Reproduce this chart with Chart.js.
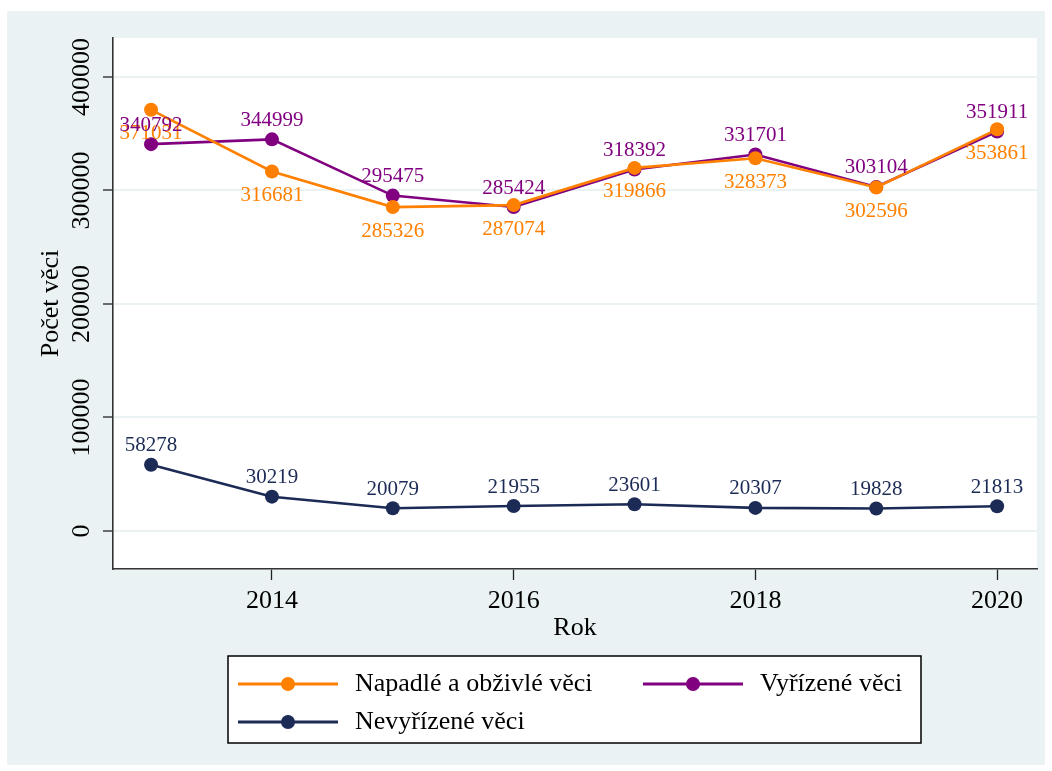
<!DOCTYPE html>
<html>
<head>
<meta charset="utf-8">
<script src="https://cdn.jsdelivr.net/npm/chart.js@4/dist/chart.umd.min.js"></script>
<style>
  html, body { margin: 0; padding: 0; background: #fff; }
</style>
</head>
<body>
<canvas id="chart-canvas" width="1052" height="771"></canvas>
<script>
// data
const years = [2013, 2014, 2015, 2016, 2017, 2018, 2019, 2020];
const napadle = [371031, 316681, 285326, 287074, 319866, 328373, 302596, 353861];
const vyrizene = [340792, 344999, 295475, 285424, 318392, 331701, 303104, 351911];
const nevyrizene = [58278, 30219, 20079, 21955, 23601, 20307, 19828, 21813];
const seriesNames = ['Napadlé a obživlé věci', 'Vyřízené věci', 'Nevyřízené věci'];
const yTicks = [0, 100000, 200000, 300000, 400000];
const xTicks = [2014, 2016, 2018, 2020];

const SERIF = '"Liberation Serif", "Times New Roman", serif';
Chart.defaults.font.family = SERIF;
Chart.defaults.color = '#000';

const toPoints = vals => vals.map((v, i) => ({ x: years[i], y: v }));

// stata-like background: light frame, white plot region
const bgPlugin = {
  id: 'bg',
  beforeDraw(chart) {
    const { ctx, chartArea: a } = chart;
    ctx.save();
    ctx.fillStyle = '#fff';
    ctx.fillRect(0, 0, chart.width, chart.height);
    ctx.fillStyle = '#EAF2F3';
    ctx.fillRect(7, 11, 1038, 754);
    ctx.fillStyle = '#fff';
    ctx.fillRect(a.left, a.top, a.right - a.left, a.bottom - a.top);
    ctx.restore();
  }
};

// value labels next to markers
const labelPlugin = {
  id: 'pointLabels',
  afterDatasetsDraw(chart) {
    const ctx = chart.ctx;
    ctx.save();
    ctx.font = '21px ' + SERIF;
    ctx.textAlign = 'center';
    ctx.textBaseline = 'middle';
    chart.data.datasets.forEach((ds, i) => {
      const dy = ds.labelPos === 'below' ? 24 : -19;
      ctx.fillStyle = ds.borderColor;
      chart.getDatasetMeta(i).data.forEach((pt, j) => {
        ctx.fillText(String(ds.data[j].y), pt.x, pt.y + dy);
      });
    });
    ctx.restore();
  }
};

// boxed legend, two columns
const legendPlugin = {
  id: 'boxLegend',
  afterDraw(chart) {
    const ctx = chart.ctx;
    const slots = [{ x: 238, y: 684 }, { x: 643, y: 684 }, { x: 238, y: 722 }];
    ctx.save();
    ctx.fillStyle = '#fff';
    ctx.fillRect(228, 656, 693, 87);
    ctx.strokeStyle = '#000';
    ctx.lineWidth = 1.5;
    ctx.strokeRect(228, 656, 693, 87);
    ctx.font = '26px ' + SERIF;
    ctx.textBaseline = 'middle';
    ctx.textAlign = 'left';
    chart.data.datasets.forEach((ds, i) => {
      const s = slots[i];
      ctx.strokeStyle = ds.borderColor;
      ctx.lineWidth = 3;
      ctx.beginPath();
      ctx.moveTo(s.x, s.y);
      ctx.lineTo(s.x + 100, s.y);
      ctx.stroke();
      ctx.fillStyle = ds.borderColor;
      ctx.beginPath();
      ctx.arc(s.x + 50, s.y, 7, 0, Math.PI * 2);
      ctx.fill();
      ctx.fillStyle = '#000';
      ctx.fillText(ds.label, s.x + 117, s.y);
    });
    ctx.restore();
  }
};

function lineSet(label, vals, color, labelPos) {
  return {
    label: label,
    data: toPoints(vals),
    borderColor: color,
    backgroundColor: color,
    pointBackgroundColor: color,
    pointBorderWidth: 0,
    pointRadius: 7,
    borderWidth: 2.6,
    tension: 0,
    labelPos: labelPos
  };
}

const ctx = document.getElementById('chart-canvas').getContext('2d');
new Chart(ctx, {
  type: 'line',
  data: {
    datasets: [
      lineSet(seriesNames[0], napadle, '#FF8000', 'below'),
      lineSet(seriesNames[1], vyrizene, '#800080', 'above'),
      lineSet(seriesNames[2], nevyrizene, '#1C2B55', 'above')
    ]
  },
  options: {
    responsive: false,
    devicePixelRatio: 1,
    animation: false,
    layout: { padding: { top: 38, right: 15, left: 0, bottom: 0 } },
    plugins: {
      legend: { display: false },
      tooltip: { enabled: false }
    },
    scales: {
      x: {
        type: 'linear',
        min: 2012.685,
        max: 2020.33,
        afterBuildTicks: s => { s.ticks = xTicks.map(v => ({ value: v })); },
        afterFit: s => { s.height = 202; s.paddingLeft = 0; s.paddingRight = 0; },
        ticks: {
          font: { size: 26 },
          padding: 6,
          autoSkip: false,
          maxRotation: 0,
          callback: v => String(v)
        },
        grid: {
          drawOnChartArea: false,
          drawTicks: true,
          tickLength: 11,
          tickColor: '#222',
          tickWidth: 1.3
        },
        border: { color: '#333', width: 1.6 },
        title: {
          display: true,
          text: 'Rok',
          font: { size: 26 },
          padding: { top: 0, bottom: 127 }
        }
      },
      y: {
        type: 'linear',
        min: -33500,
        max: 434300,
        afterBuildTicks: s => { s.ticks = yTicks.map(v => ({ value: v })); },
        afterFit: s => { s.width = 113; s.paddingTop = 0; s.paddingBottom = 0; },
        ticks: {
          font: { size: 26 },
          minRotation: 90,
          maxRotation: 90,
          crossAlign: 'center',
          padding: -18,
          autoSkip: false,
          callback: v => String(v)
        },
        grid: {
          color: '#EAF2F3',
          lineWidth: 2,
          drawTicks: true,
          tickLength: 10,
          tickColor: '#222',
          tickWidth: 1.3
        },
        border: { color: '#333', width: 1.6 },
        title: {
          display: true,
          text: 'Počet věci',
          font: { size: 26 },
          padding: { top: 36, bottom: 0 }
        }
      }
    }
  },
  plugins: [bgPlugin, labelPlugin, legendPlugin]
});
</script>
</body>
</html>
